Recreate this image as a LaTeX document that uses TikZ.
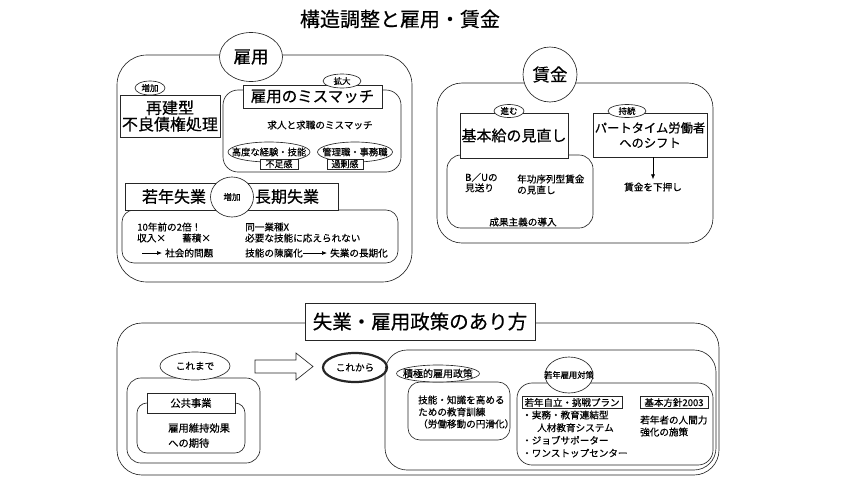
\documentclass[tikz,border=0pt]{standalone}
\usepackage{fontspec}
\setmainfont{Noto Sans CJK JP}[FakeBold=0.5]
\usetikzlibrary{shapes.geometric,arrows.meta}
\newcommand{\jfs}[2]{\fontsize{#1}{#2}\selectfont}

\begin{document}
\begin{tikzpicture}[x=1pt,y=1pt,yscale=-1,
  panel/.style={draw=black!85, line width=0.65pt, rounded corners=#1},
  oval/.style={draw=black!85, fill=white, ellipse, inner sep=0pt, line width=0.65pt},
  tag/.style={draw=black!85, fill=white, inner sep=0.5pt, line width=0.65pt},
  txt/.style={inner sep=0pt, font=\jfs{9.6}{11}},
  arr/.style={-{Latex[length=5pt,width=4pt]}, line width=0.65pt, shorten >=3pt}]
\useasboundingbox (0,0) rectangle (844,483);

% Title
\node[inner sep=0pt, font=\jfs{20}{24}] (title) at (400,19) {構造調整と雇用・賃金};

%Shape: Rounded Rect -- koyo
\draw[panel=30pt] (117,55) rectangle (412,282);
\node[oval, minimum width=63pt, minimum height=49pt, font=\jfs{17.5}{20}] (koyo) at (251,57) {雇用};
\node[tag, minimum width=100pt, minimum height=42pt, align=center, font=\jfs{16}{16.5}] (saiken) at (170,116) {再建型\\不良債権処理};
\node[oval, minimum width=30pt, minimum height=14pt, font=\jfs{8.5}{9}] (zoka1) at (150,88) {増加};

% mismatch
\draw[panel=15pt] (223,90) rectangle (401,172);
\node[tag, minimum width=139pt, minimum height=23pt, font=\jfs{15.5}{16}] (mis) at (312.5,96.5) {雇用のミスマッチ};
\node[oval, minimum width=38pt, minimum height=14pt, font=\jfs{8.5}{9}] (kakudai) at (342,81) {拡大};
\node[txt] (kyujin) at (320,125) {求人と求職のミスマッチ};
\node[oval, minimum width=82pt, minimum height=20pt] (kodo) at (269,152) {};
\node[txt, font=\jfs{9.3}{10}] (kodot) at (kodo) {高度な経験・技能};
\node[tag, minimum width=38pt, minimum height=10pt, font=\jfs{9}{9}] (fusoku) at (279,164) {不足感};
\node[oval, minimum width=75pt, minimum height=20pt] (kanri) at (355,152) {};
\node[txt, font=\jfs{9.3}{10}] (kanrit) at (kanri) {管理職・事務職};
\node[tag, minimum width=36pt, minimum height=10pt, font=\jfs{9}{9}] (kajo) at (345,164) {過剰感};

% jakunen / choki shitsugyo
\draw[panel=12pt] (122,210) rectangle (398,263);
\node[tag, minimum width=213pt, minimum height=27pt] (jakuhd) at (231.5,196.5) {};
\node[inner sep=0pt, font=\jfs{16}{16}] (jaku) at (174,196.5) {若年失業};
\node[inner sep=0pt, font=\jfs{16}{16}] (choki) at (287,196.5) {長期失業};
\node[oval, minimum width=43pt, minimum height=40pt, font=\jfs{8.5}{9}] (zoka2) at (232,197) {増加};
\node[txt, anchor=west] (juunen) at (137,227) {10年前の2倍！};
\node[txt, anchor=west] (shunyu) at (137,238) {収入×};
\node[txt, anchor=west] (chiku) at (182,238) {蓄積×};
\coordinate (sha0) at (142,253);
\node[txt, anchor=west] (shakai) at (165,253) {社会的問題};
\draw[arr] (sha0) -- (shakai);
\node[txt, anchor=west, align=left] (doitsu) at (245,232.5) {同一業種X\\必要な技能に応えられない};
\node[txt, anchor=west] (chinpu) at (245,253) {技能の陳腐化};
\node[txt, anchor=west] (choki2) at (330,253) {失業の長期化};
\draw[arr] (chinpu) -- (choki2);

%Shape: Rounded Rect -- chingin
\draw[panel=25pt] (437,83) rectangle (713,243);
\node[oval, minimum width=54pt, minimum height=55pt, font=\jfs{17.5}{20}] (chingin) at (550,74.5) {賃金};
\draw[panel=14pt] (447,155) rectangle (593,228);
\node[tag, minimum width=108pt, minimum height=45pt, font=\jfs{15}{16}] (kihon) at (514,135.5) {基本給の見直し};
\node[oval, minimum width=30pt, minimum height=13pt, font=\jfs{8.5}{9}] (susumu) at (509,111) {進む};
\node[txt, anchor=west, align=left, font=\jfs{9.6}{10.5}] (bu) at (465,182.5) {B／Uの\\見送り};
\node[txt, anchor=west, align=left, font=\jfs{9.6}{11}] (nenko) at (517,184.5) {年功序列型賃金\\の見直し};
\node[txt] (seika) at (523,222) {成果主義の導入};
\node[tag, minimum width=114pt, minimum height=44pt, align=center, font=\jfs{12.3}{15}] (part) at (650,135) {パートタイム労働者\\へのシフト};
\node[oval, minimum width=38pt, minimum height=13pt, font=\jfs{8.5}{9}] (jizoku) at (627,111) {持続};
\node[txt] (oshi) at (653,187) {賃金を下押し};
\draw[arr] (part.south -| oshi) -- (oshi);

%Shape: Rounded Rect -- seisaku
\draw[panel=25pt] (117,323) rectangle (719,475);
\node[tag, minimum width=230pt, minimum height=37pt, font=\jfs{19.5}{20}] (seisaku) at (420,321.5) {失業・雇用政策のあり方};

% koremade
\draw[panel=14pt] (127,378) rectangle (260,463);
\node[oval, minimum width=70pt, minimum height=28pt, font=\jfs{9.6}{10}] (koremade) at (195,366) {これまで};
\draw[panel=10pt] (137,403) rectangle (245,453);
\node[tag, minimum width=88pt, minimum height=20pt, font=\jfs{10.3}{11}] (kokyo) at (191,403) {公共事業};
\node[txt, anchor=west, align=left, font=\jfs{10.3}{15}] (iji) at (168,435.5) {雇用維持効果\\への期待};

%Shape: Block Arrow
\draw[draw=black!85, line width=0.65pt, fill=white] (255,360) -- (296,360) -- (296,353) -- (313,366.5) -- (296,380) -- (296,373) -- (255,373) -- cycle;
\node[oval, minimum width=64pt, minimum height=29pt, line width=2.2pt, font=\jfs{9.6}{10}] (korekara) at (355,367.5) {これから};

% korekara
\draw[panel=22pt] (385,350) rectangle (716,470);
\draw[panel=12pt] (408,382) rectangle (510,440);
\node[oval, minimum width=83pt, minimum height=17pt] (sekkyoku) at (438,373.5) {};
\node[txt, font=\jfs{10}{10}] (sekkyokut) at (sekkyoku) {積極的雇用政策};
\node[txt, anchor=west, align=left, font=\jfs{9.6}{12}] (gino) at (418,412) {技能・知識を高める\\ための教育訓練\\（労働移動の円滑化）};
\draw[panel=15pt] (517,383) rectangle (713,465);
\node[oval, minimum width=48pt, minimum height=36pt] (jakunen) at (569,375) {};
\node[txt, font=\jfs{8.3}{8}] (jakunent) at (jakunen) {若年雇用対策};
\node[tag, minimum width=100pt, minimum height=12pt, font=\jfs{9.5}{10}] (plan) at (572,402.5) {若年自立・挑戦プラン};
\node[tag, minimum width=68pt, minimum height=12pt, font=\jfs{9.5}{10}] (hoshin) at (674,402.5) {基本方針2003};
\node[txt, anchor=west, align=left, font=\jfs{9.6}{12.7}] (jitsumu) at (522,434) {・実務・教育連結型\\\hspace*{15pt}人材教育システム\\・ジョブサポーター\\・ワンストップセンター};
\node[txt, anchor=west, align=left, font=\jfs{9.6}{12}] (ningen) at (640,426) {若年者の人間力\\強化の施策};
\end{tikzpicture}
\end{document}
